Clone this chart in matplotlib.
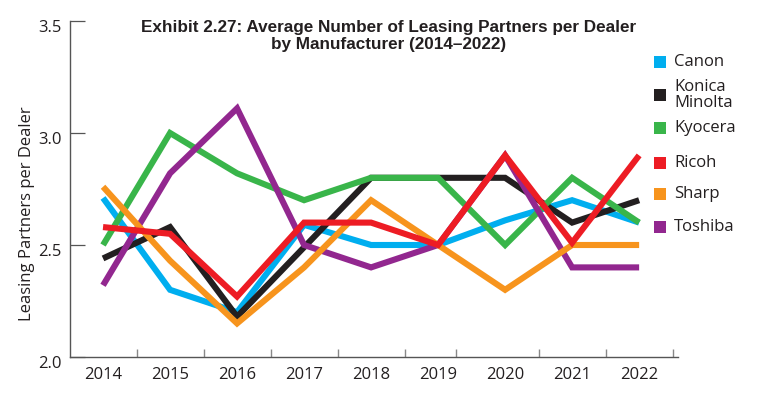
import matplotlib
matplotlib.use("Agg")
import matplotlib.pyplot as plt
from matplotlib.patches import Rectangle
from matplotlib.transforms import ScaledTranslation

# %% DATA
years = [2014, 2015, 2016, 2017, 2018, 2019, 2020, 2021, 2022]
canon = [2.71, 2.30, 2.20, 2.59, 2.50, 2.50, 2.61, 2.70, 2.60]
konica_minolta = [2.44, 2.58, 2.18, 2.49, 2.80, 2.80, 2.80, 2.60, 2.70]
kyocera = [2.50, 3.00, 2.82, 2.70, 2.80, 2.80, 2.50, 2.80, 2.60]
ricoh = [2.58, 2.55, 2.27, 2.60, 2.60, 2.50, 2.90, 2.51, 2.90]
sharp = [2.76, 2.43, 2.15, 2.40, 2.70, 2.50, 2.30, 2.50, 2.50]
toshiba = [2.32, 2.82, 3.11, 2.50, 2.40, 2.50, 2.90, 2.40, 2.40]

series_names = ["Canon", "Konica\nMinolta", "Kyocera", "Ricoh", "Sharp", "Toshiba"]
series_values = [canon, konica_minolta, kyocera, ricoh, sharp, toshiba]
series_colors = ["#00AEEF", "#231F20", "#39B54A", "#ED1C24", "#F7941D", "#92278F"]
draw_order = [0, 1, 2, 5, 4, 3]

# boundary ticks between years (the 2019/2020 one sits off-centre in the original)
boundary_ticks = [2014.5, 2015.5, 2016.5, 2017.5, 2018.5, 2019.27, 2020.5, 2021.5, 2022.5]
y_ticks = [2.0, 2.5, 3.0, 3.5]

TITLE = "Exhibit 2.27: Average Number of Leasing Partners per Dealer\nby Manufacturer (2014\u20132022)"
Y_LABEL = "Leasing Partners per Dealer"

# %% STYLE
plt.rcParams["font.family"] = ["Open Sans", "DejaVu Sans"]
TEXT_COLOR = "#231F20"
AXIS_COLOR = "#555555"
FS = 12

fig = plt.figure(figsize=(7.8, 3.96), dpi=100)
ax = fig.add_axes([70 / 780, 39 / 396, 608 / 780, 336 / 396])

for i in draw_order:
    ax.plot(years, series_values[i], color=series_colors[i], lw=4.4,
            solid_joinstyle="miter", solid_capstyle="butt")

ax.set_xlim(2013.507, 2022.58)
ax.set_ylim(2.0, 3.5)

for side in ["top", "right"]:
    ax.spines[side].set_visible(False)
for side in ["left", "bottom"]:
    ax.spines[side].set_color(AXIS_COLOR)
    ax.spines[side].set_linewidth(1.0)

ax.set_yticks(y_ticks)
ax.set_yticklabels([f"{v:.1f}" for v in y_ticks])
ax.tick_params(axis="y", direction="in", length=11, width=0.9, color=AXIS_COLOR,
               labelsize=FS, labelcolor=TEXT_COLOR, pad=6)
# labels sit a little below their ticks in the original
for lab in ax.get_yticklabels():
    lab.set_transform(lab.get_transform() + ScaledTranslation(0, -5 / 100, fig.dpi_scale_trans))

ax.set_xticks(years)
ax.set_xticklabels([str(y) for y in years])
ax.tick_params(axis="x", which="major", length=0, labelsize=FS,
               labelcolor=TEXT_COLOR, pad=7)
ax.set_xticks(boundary_ticks, minor=True)
ax.tick_params(axis="x", which="minor", direction="in", length=6, width=1.0,
               color="#888888")

fig.text(27 / 780, 1 - 214 / 396, Y_LABEL, rotation=90, ha="center", va="center",
         fontsize=FS, color=TEXT_COLOR)

fig.text(389 / 780, 1 - 36 / 396, TITLE, ha="center", va="center", fontsize=12.3,
         fontweight="bold", color=TEXT_COLOR, linespacing=1.2,
         family=["Liberation Sans", "DejaVu Sans"])

# %% LEGEND (manual, to follow the original spacing)
legend_y = [62, 95, 128, 163, 194, 227]
for name, color, ly in zip(series_names, series_colors, legend_y):
    fig.patches.append(Rectangle(((659.5 - 6) / 780, 1 - (ly + 6) / 396), 12 / 780, 12 / 396,
                                 transform=fig.transFigure, facecolor=color, edgecolor="none"))
    fig.text(674 / 780, 1 - ly / 396, name, ha="left", va="center", fontsize=FS,
             color=TEXT_COLOR, linespacing=0.95)

fig.savefig("out.png", dpi=100)
